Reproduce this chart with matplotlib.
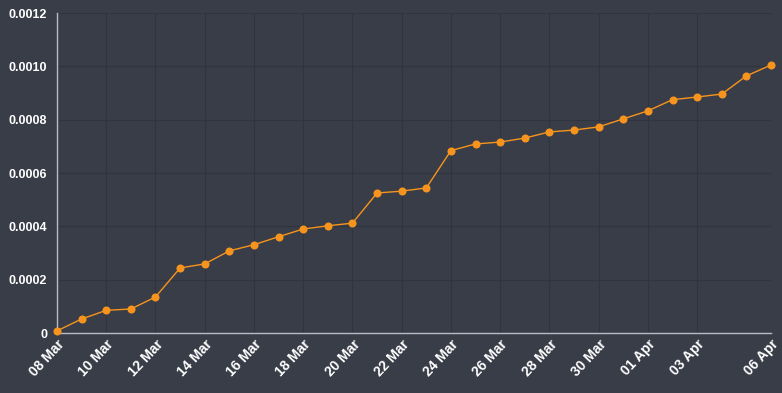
import matplotlib
matplotlib.use("Agg")
import matplotlib.pyplot as plt
import matplotlib.transforms as mtransforms
import numpy as np
import pandas as pd
from matplotlib.ticker import FuncFormatter

dates = pd.date_range("2020-03-08", "2020-04-06", freq="D")
values = [0.000008, 0.0000525, 0.000085, 0.00009, 0.000135, 0.000244, 0.000259,
          0.000308, 0.000331, 0.000361, 0.00039, 0.000402, 0.000412, 0.000525,
          0.000532, 0.000544, 0.000684, 0.000709, 0.000716, 0.000731, 0.000754,
          0.000761, 0.000773, 0.000803, 0.000833, 0.000875, 0.000885, 0.000896,
          0.000964, 0.001005]
tick_labels = ["08 Mar", "10 Mar", "12 Mar", "14 Mar", "16 Mar", "18 Mar", "20 Mar",
               "22 Mar", "24 Mar", "26 Mar", "28 Mar", "30 Mar", "01 Apr", "03 Apr", "06 Apr"]
y_ticks = [0, 0.0002, 0.0004, 0.0006, 0.0008, 0.0010, 0.0012]

bg = "#393d48"
fig = plt.figure(figsize=(7.82, 3.93), dpi=100, facecolor=bg)
ax = fig.add_axes([57/782, 1-333/393, (771-57)/782, (333-13)/393])
ax.set_facecolor(bg)

x = np.arange(len(dates))
label_map = {d.strftime("%d %b"): i for i, d in enumerate(dates)}
tick_pos = [label_map[t] for t in tick_labels]

ax.plot(x, values, color="#f7941d", lw=1.0, marker="o", markersize=5.8,
        markeredgewidth=0, zorder=3, clip_on=False)

ax.set_xlim(0, len(dates) - 1)
ax.set_ylim(0, 0.0012)
ax.set_xticks(tick_pos)
ax.set_xticklabels(tick_labels, rotation=47, ha="right", rotation_mode="anchor",
                   color="white", fontweight="bold", fontsize=10, family="Liberation Sans")
offset = mtransforms.ScaledTranslation(3/100, -1/100, fig.dpi_scale_trans)
for lab in ax.get_xticklabels():
    lab.set_transform(lab.get_transform() + offset)
ax.set_yticks(y_ticks)
ax.yaxis.set_major_formatter(FuncFormatter(lambda v, p: "0" if v == 0 else f"{v:.4f}"))
for lab in ax.get_yticklabels():
    lab.set_color("white"); lab.set_fontweight("bold"); lab.set_fontsize(9)
    lab.set_family("Liberation Sans")
ax.tick_params(axis="y", length=0, pad=7)
ax.tick_params(axis="x", length=0, pad=3)

ax.grid(True, color="#30343e", lw=0.8)
ax.set_axisbelow(True)
for s in ["top", "right"]:
    ax.spines[s].set_visible(False)
for s in ["left", "bottom"]:
    ax.spines[s].set_color("#b8bcc4")
    ax.spines[s].set_linewidth(1.0)

fig.savefig("out.png", dpi=100, facecolor=bg)
